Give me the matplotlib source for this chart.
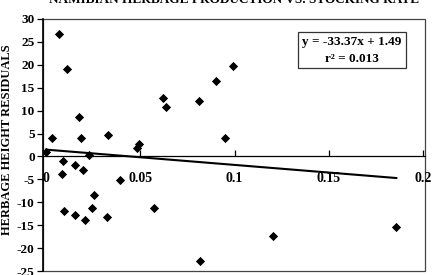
import matplotlib
matplotlib.use("Agg")
import matplotlib.pyplot as plt
from matplotlib.patches import Rectangle
import numpy as np

stocking_rate = [0.000, 0.0034, 0.0069, 0.0110, 0.0177, 0.0186, 0.0328, 0.0620, 0.0638,
                 0.0809, 0.0903, 0.0991, 0.0949, 0.0229, 0.0484, 0.0495, 0.0092, 0.0087,
                 0.0154, 0.0197, 0.0392, 0.0255, 0.0097, 0.0243, 0.0154, 0.0206, 0.0321,
                 0.0571, 0.0815, 0.1202, 0.1858]
residuals = [1.0, 4.0, 26.8, 19.0, 8.7, 4.0, 4.75, 12.8, 10.9,
             12.0, 16.5, 19.8, 4.0, 0.4, 1.9, 2.8, -1.1, -3.9,
             -1.8, -2.9, -5.2, -8.5, -11.9, -11.3, -12.8, -13.9, -13.3,
             -11.2, -22.8, -17.3, -15.3]
slope = -33.37
intercept = 1.49
r2 = 0.013
x_ticks = [0, 0.05, 0.1, 0.15, 0.2]
x_tick_labels = ["0", "0.05", "0.1", "0.15", "0.2"]
y_ticks = [-25, -20, -15, -10, -5, 0, 5, 10, 15, 20, 25, 30]
title = "NAMIBIAN HERBAGE PRODUCTION VS. STOCKING RATE"
ylabel = "HERBAGE HEIGHT RESIDUALS"

plt.rcParams['font.family'] = ['Liberation Serif', 'DejaVu Serif']
plt.rcParams['font.weight'] = 'bold'

fig = plt.figure(figsize=(4.35, 2.75), dpi=100)
ax = fig.add_axes([0.099, 0.0145, 0.878, 0.9165])

ax.scatter(stocking_rate, residuals, marker='D', s=22, color='black', zorder=3, linewidths=0)
xs = np.array([0.0, max(stocking_rate)])
ax.plot(xs, slope * xs + intercept, color='black', lw=1.5, zorder=2)

ax.set_xlim(-0.0016, 0.201)
ax.set_ylim(-25, 30)

for s in ['top', 'right']:
    ax.spines[s].set_visible(False)
ax.spines['bottom'].set_position(('data', 0))
ax.spines['bottom'].set_linewidth(0.9)
ax.spines['left'].set_linewidth(1.2)
ax.add_patch(Rectangle((0, 0), 1, 1, transform=ax.transAxes, fill=False,
                       edgecolor='#444444', lw=0.9, zorder=1, clip_on=False))

ax.set_xticks(x_ticks)
ax.set_xticklabels(x_tick_labels, fontsize=10, fontweight='bold')
ax.tick_params(axis='x', direction='in', length=4, pad=11, width=0.9)
ax.set_yticks(y_ticks)
ax.set_yticklabels([str(v) for v in y_ticks], fontsize=9.5, fontweight='bold')
ax.tick_params(axis='y', direction='out', length=4, pad=2, width=0.9)

ax.set_ylabel(ylabel, fontsize=9, fontweight='bold')
ax.yaxis.set_label_coords(-0.08, 0.52)

ax.text(0.809, 0.875, f"y = {slope:.2f}x + {intercept:.2f}\nr\u00b2 = {r2:.3f}",
        transform=ax.transAxes, ha='center', va='center', fontsize=9.5, fontweight='bold',
        linespacing=1.45,
        bbox=dict(boxstyle='square,pad=0.3', facecolor='white', edgecolor='#333333', lw=0.9))

fig.text(0.538, 1.0, title, ha='center', va='center', fontsize=9.5, fontweight='bold')

fig.savefig("out.png", dpi=100)
